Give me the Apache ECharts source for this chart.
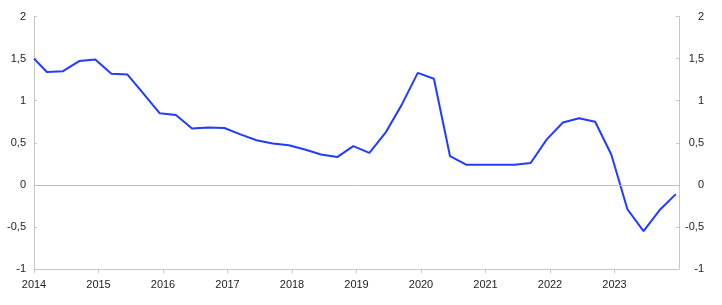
<!DOCTYPE html>
<html>
<head>
<meta charset="utf-8">
<script src="https://cdn.jsdelivr.net/npm/echarts@6/dist/echarts.min.js"></script>
<style>
  html, body { margin: 0; padding: 0; background: #fff; }
  #chart { width: 722px; height: 305px; }
</style>
</head>
<body>
<div id="chart"></div>
<script>
// quarterly observations, position in decimal years
const dates = [
  2014.0, 2014.2, 2014.45, 2014.7, 2014.95,
  2015.2, 2015.45, 2015.7, 2015.95,
  2016.2, 2016.45, 2016.7, 2016.95,
  2017.2, 2017.45, 2017.7, 2017.95,
  2018.2, 2018.45, 2018.7, 2018.95,
  2019.2, 2019.45, 2019.7, 2019.95,
  2020.2, 2020.45, 2020.7, 2020.95,
  2021.2, 2021.45, 2021.7, 2021.95,
  2022.2, 2022.45, 2022.7, 2022.95,
  2023.2, 2023.45, 2023.7, 2023.95
];
const values = [
  1.50, 1.34, 1.35, 1.47, 1.49,
  1.32, 1.31, 1.08, 0.85,
  0.83, 0.67, 0.68, 0.675,
  0.60, 0.53, 0.49, 0.47,
  0.42, 0.36, 0.33, 0.46,
  0.38, 0.62, 0.95, 1.33,
  1.26, 0.34, 0.24, 0.24,
  0.24, 0.24, 0.26, 0.54,
  0.74, 0.79, 0.75, 0.36,
  -0.29, -0.55, -0.30, -0.11
];
const years = [2014, 2024];
const yRange = [-1, 2];

const chart = echarts.init(document.getElementById('chart'));
const axisGray = '#c6c6c6';
const textColor = '#222';
const font = 'Liberation Sans, Arial, sans-serif';
const fmt = v => String(v).replace('.', ',');

const yAxisBase = {
  type: 'value',
  min: yRange[0],
  max: yRange[1],
  interval: 0.5,
  splitLine: { show: false },
  axisLine: { show: true, lineStyle: { color: axisGray, width: 1 } },
  axisTick: { show: true, inside: true, length: 3, lineStyle: { color: axisGray } }
};

chart.setOption({
  animation: false,
  grid: { left: 34, right: 43, top: 16.5, bottom: 36 },
  xAxis: {
    type: 'value',
    min: years[0],
    max: years[1],
    interval: 1,
    splitLine: { show: false },
    axisLine: { onZero: false, lineStyle: { color: axisGray, width: 1 } },
    axisTick: { show: true, length: 4, lineStyle: { color: axisGray } },
    axisLabel: {
      color: textColor,
      fontFamily: font,
      fontSize: 11,
      margin: 10,
      showMaxLabel: false,
      formatter: v => String(v)
    }
  },
  yAxis: [
    Object.assign({}, yAxisBase, {
      position: 'left',
      axisLabel: { color: textColor, fontFamily: font, fontSize: 11, margin: 8, formatter: fmt }
    }),
    Object.assign({}, yAxisBase, {
      position: 'right',
      axisLabel: { color: textColor, fontFamily: font, fontSize: 11, margin: 25, align: 'right', formatter: fmt }
    })
  ],
  series: [{
    type: 'line',
    data: dates.map((d, i) => [d, values[i]]),
    showSymbol: false,
    lineStyle: { color: '#1f3cff', width: 2 },
    itemStyle: { color: '#1f3cff' },
    markLine: {
      silent: true,
      symbol: 'none',
      label: { show: false },
      lineStyle: { color: '#bdbdbd', type: 'solid', width: 1 },
      data: [{ yAxis: 0 }]
    },
    z: 3
  }]
});
</script>
</body>
</html>
